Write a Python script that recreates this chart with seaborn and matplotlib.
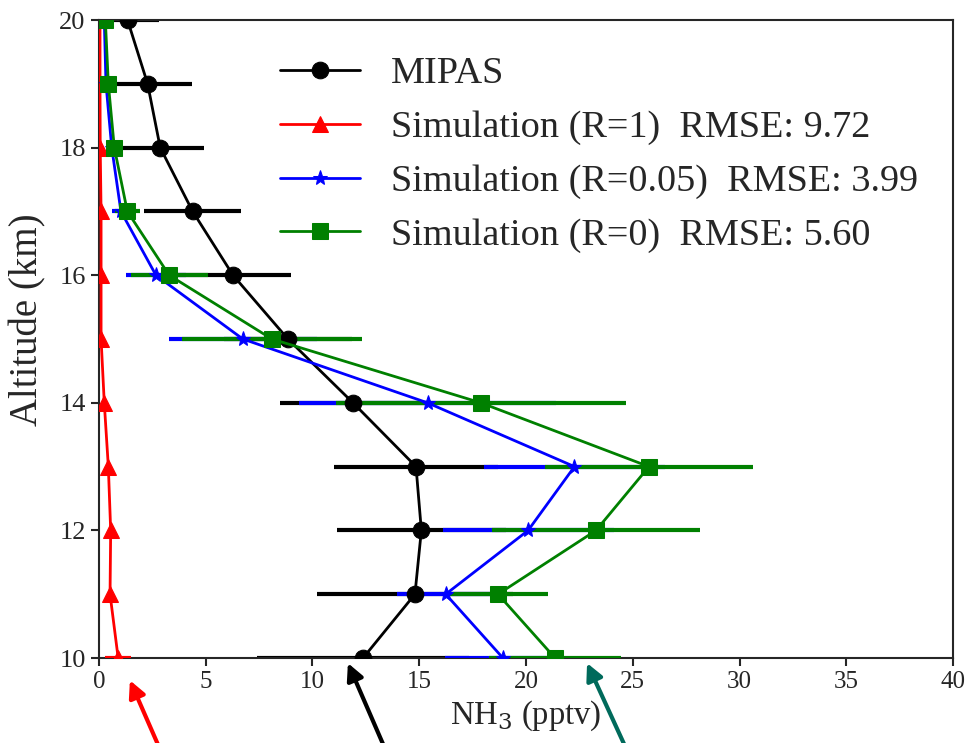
import numpy as np
import matplotlib
matplotlib.use('Agg')
import matplotlib.pyplot as plt
import seaborn as sns

# altitude levels (km)
altitude = [10, 11, 12, 13, 14, 15, 16, 17, 18, 19, 20]

# NH3 profiles (pptv)
mipas     = [12.37, 14.8, 15.1, 14.85, 11.9, 8.85, 6.28, 4.39, 2.87, 2.28, 1.34]
mipas_err = [4.98, 4.6, 3.97, 3.85, 3.4, 3.0, 2.7, 2.28, 2.06, 2.08, 1.47]

sim_r1     = [0.9, 0.52, 0.55, 0.44, 0.25, 0.1, 0.1, 0.1, 0.06, 0.05, 0.05]
sim_r1_err = [0.6, 0.1, 0.1, 0.1, 0.05, 0.05, 0.05, 0.05, 0.03, 0.03, 0.03]

sim_r005     = [18.92, 16.24, 20.1, 22.27, 15.39, 6.74, 2.67, 1.03, 0.6, 0.33, 0.25]
sim_r005_err = [2.7, 2.3, 4.0, 4.22, 6.0, 3.45, 1.42, 0.41, 0.25, 0.15, 0.1]

sim_r0     = [21.36, 18.69, 23.28, 25.76, 17.89, 8.1, 3.29, 1.33, 0.72, 0.44, 0.3]
sim_r0_err = [3.1, 2.36, 4.86, 4.87, 6.8, 4.2, 1.8, 0.6, 0.3, 0.2, 0.15]

labels = ['MIPAS',
          'Simulation (R=1)  RMSE: 9.72',
          'Simulation (R=0.05)  RMSE: 3.99',
          'Simulation (R=0)  RMSE: 5.60']

sns.set_theme(style='ticks')
plt.rcParams['font.family'] = ['Liberation Serif', 'DejaVu Serif']
plt.rcParams['mathtext.fontset'] = 'dejavuserif'

fig = plt.figure(figsize=(9.7, 7.43), dpi=100)
ax = fig.add_axes([0.102, 0.1144, 0.8805, 0.8586])

series = [
    (mipas, mipas_err, 'black', 'o', 12, labels[0]),
    (sim_r1, sim_r1_err, 'red', '^', 11, labels[1]),
    (sim_r005, sim_r005_err, 'blue', '*', 11, labels[2]),
    (sim_r0, sim_r0_err, 'green', 's', 11, labels[3]),
]

for i, (vals, err, col, mk, ms, lab) in enumerate(series):
    ax.errorbar(vals, altitude, xerr=err, fmt='none', ecolor=col,
                elinewidth=3, capsize=0, zorder=2 + i)
    sns.lineplot(x=vals, y=altitude, sort=False, estimator=None, ax=ax,
                 color=col, marker=mk, markersize=ms, markeredgecolor=col,
                 linewidth=2, label=lab, zorder=6 + i)

ax.set_xlim(0, 40)
ax.set_ylim(10, 20)
ax.set_xticks(range(0, 41, 5))
ax.set_yticks(range(10, 21, 2))
ax.tick_params(axis='x', labelsize=18, width=1.5, length=6)
ax.tick_params(axis='y', labelsize=19, width=1.5, length=6)
for s in ax.spines.values():
    s.set_linewidth(1.5)
ax.set_xlabel('NH$_3$ (pptv)', fontsize=23.5, labelpad=4)
ax.set_ylabel('Altitude (km)', fontsize=28)
ax.yaxis.set_label_coords(-0.062, 0.53)

ax.legend(loc='upper right', frameon=False, fontsize=27.5, handlelength=2.1,
          handletextpad=0.8, labelspacing=0.5, borderaxespad=0.3,
          bbox_to_anchor=(0.99, 0.985))

# arrows below the axis
arrows = [((1.45, 9.65), (2.95, 8.5), 'red'),
          ((11.66, 9.92), (13.5, 8.5), 'black'),
          ((22.86, 9.92), (24.8, 8.5), '#006a5b')]
for tip, tail, col in arrows:
    ax.annotate('', xy=tip, xytext=tail, annotation_clip=False,
                arrowprops=dict(arrowstyle='-|>', color=col, lw=3,
                                mutation_scale=25, shrinkA=0, shrinkB=0))

plt.savefig('out.png', dpi=100)
